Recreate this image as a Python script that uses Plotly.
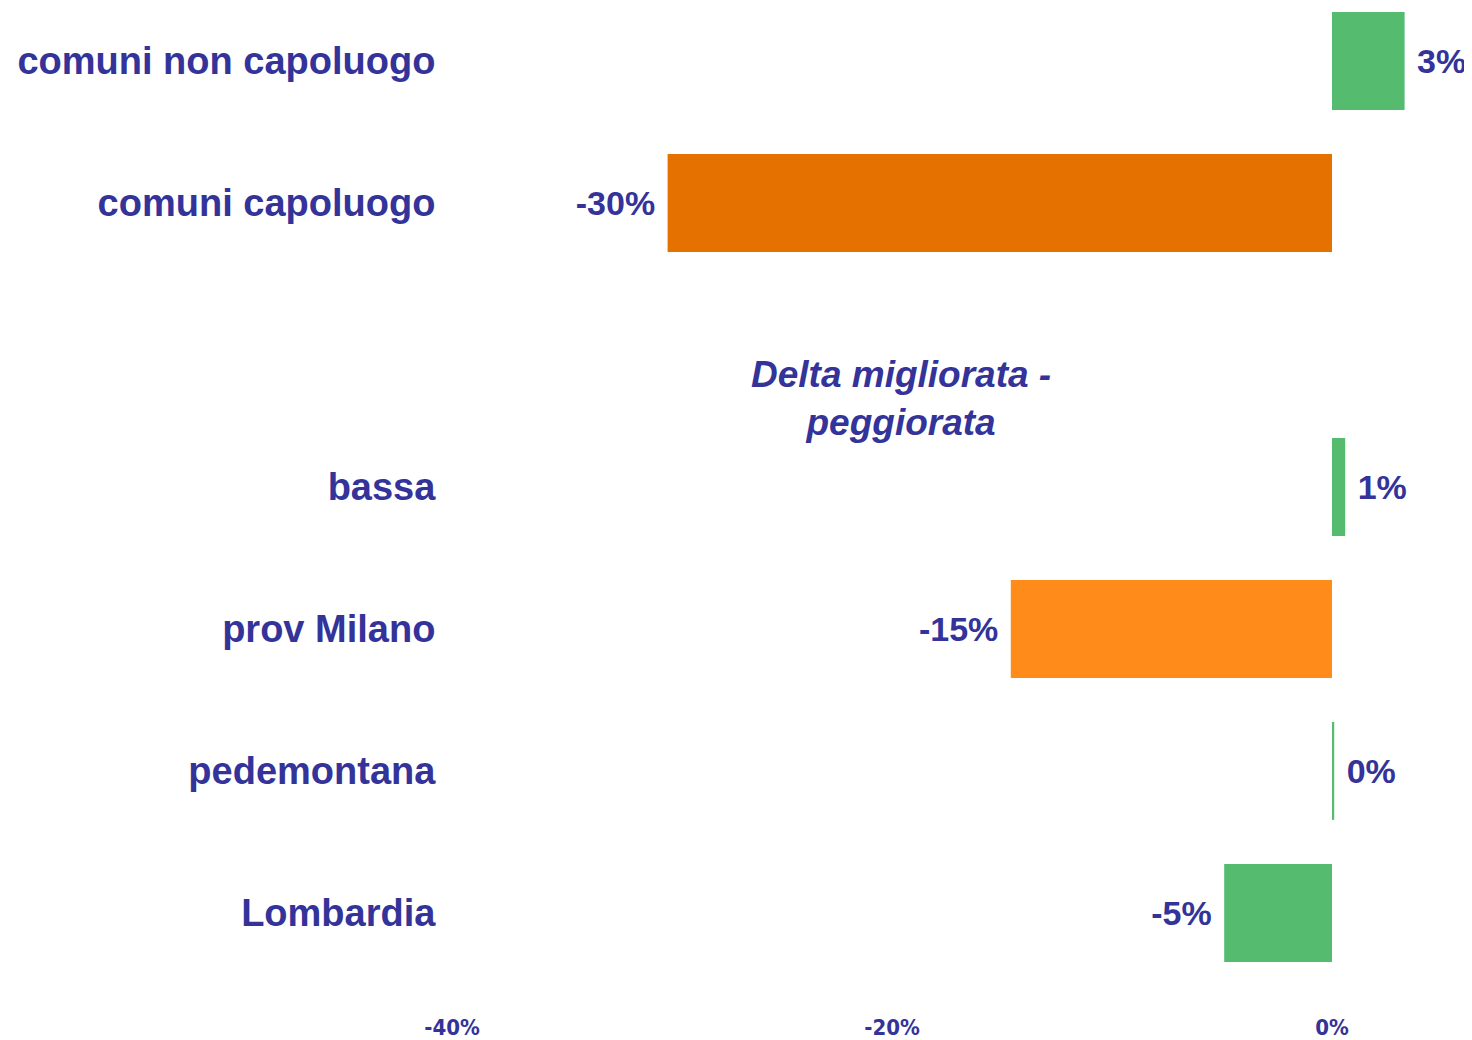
import plotly.graph_objects as go

# data (bottom to top, slot 4 is the gap holding the title)
categories = ["Lombardia", "pedemontana", "prov Milano", "bassa", "comuni capoluogo", "comuni non capoluogo"]
slots      = [0, 1, 2, 3, 5, 6]
delta      = [-4.9, 0.1, -14.6, 0.6, -30.2, 3.3]
x_ticks    = [-40, -20, 0]
x_ticktext = ["-40%", "-20%", "0%"]
title_text = "Delta migliorata -<br>peggiorata"

TEXT    = "#333399"
GREEN   = "#55BB6F"
ORANGE  = "#FF8C1A"
DORANGE = "#E57200"
bar_colors = [GREEN, GREEN, ORANGE, GREEN, DORANGE, GREEN]

labels = [f" {v:.0f}%" if v >= 0 else f"{v:.0f}% " for v in delta]

fig = go.Figure(go.Bar(
	x=delta, y=slots,
	orientation="h",
	width=0.69,
	marker=dict(color=bar_colors, line=dict(width=0)),
	text=labels,
	textposition="outside",
	cliponaxis=False,
	constraintext="none",
	textfont=dict(family="Liberation Sans, Arial, sans-serif", size=34, color=TEXT, weight="bold"),
))

fig.add_annotation(
	x=-19.6, y=3.62, xref="x", yref="y",
	text=title_text, showarrow=False,
	font=dict(family="Liberation Sans, Arial, sans-serif", size=37, color=TEXT, weight="bold", style="italic"),
	align="center",
)

# page body has an 8px margin, so the figure is sized to fit the window
fig.update_layout(
	width=1464, height=1032,
	paper_bgcolor="white", plot_bgcolor="white",
	margin=dict(l=444, r=30, t=0, b=49),
	showlegend=False,
	xaxis=dict(
		range=[-40, 5], tickvals=x_ticks, ticktext=x_ticktext,
		showgrid=False, zeroline=False, showline=False, automargin=False,
		ticks="outside", ticklen=0, ticklabelstandoff=17,
		tickfont=dict(family="Liberation Sans Narrow, DejaVu Sans Condensed, Liberation Sans, sans-serif", size=22, color=TEXT, weight="bold"),
	),
	yaxis=dict(
		range=[-0.55, 6.373], tickvals=slots, ticktext=categories,
		showgrid=False, zeroline=False, showline=False, automargin=False,
		ticks="outside", ticklen=0, ticklabelstandoff=8,
		tickfont=dict(family="Liberation Sans, Arial, sans-serif", size=38, color=TEXT, weight="bold"),
	),
)

fig.write_html("out.html")
